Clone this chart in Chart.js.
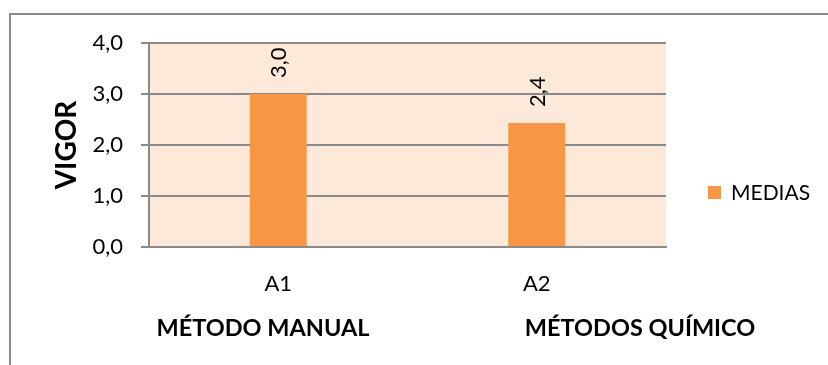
<!DOCTYPE html>
<html>
<head>
<meta charset="utf-8">
<script src="https://cdn.jsdelivr.net/npm/chart.js@4"></script>
<style>
  html, body { margin: 0; padding: 0; background: #ffffff; overflow: hidden; }
  #wrap { width: 828px; height: 365px; }
</style>
</head>
<body>
<div id="wrap"><canvas id="chart" width="828" height="365"></canvas></div>
<script>
// Vigor means per weed-control method
const categories = ['A1', 'A2'];
const groupLabels = ['MÉTODO MANUAL', 'MÉTODOS QUÍMICO'];
const seriesName = 'MEDIAS';
const mediasValues = [3.0, 2.43];
const yTicks = [0, 1, 2, 3, 4];

const FONT = 'Lato, "Open Sans", "DejaVu Sans", sans-serif';
const GRID = '#8a8a8a';
const BAR = '#F79646';
const PLOT_BG = '#FDE9D9';

const fmt = v => v.toFixed(1).replace('.', ',');

// plot background, outer frame, rotated value labels, group captions and legend
const decorations = {
  id: 'decorations',
  beforeDraw(chart) {
    const { ctx, chartArea: a } = chart;
    ctx.save();
    ctx.fillStyle = PLOT_BG;
    ctx.fillRect(a.left, a.top, a.right - a.left, a.bottom - a.top);
    ctx.strokeStyle = GRID;
    ctx.lineWidth = 2;
    ctx.strokeRect(10, 14, 900, 400);
    ctx.restore();
  },
  afterDatasetsDraw(chart) {
    const { ctx } = chart;
    const meta = chart.getDatasetMeta(0);
    const values = chart.data.datasets[0].data;
    ctx.save();
    ctx.fillStyle = '#000000';
    ctx.font = '22px ' + FONT;
    ctx.textAlign = 'left';
    ctx.textBaseline = 'middle';
    meta.data.forEach((bar, i) => {
      ctx.save();
      ctx.translate(bar.x + 1, bar.y - 16);
      ctx.rotate(-Math.PI / 2);
      ctx.fillText(fmt(values[i]), 0, 0);
      ctx.restore();
    });
    ctx.restore();
  },
  afterDraw(chart) {
    const { ctx } = chart;
    ctx.save();
    ctx.fillStyle = '#000000';
    ctx.font = 'bold 23.5px ' + FONT;
    ctx.textAlign = 'center';
    ctx.textBaseline = 'middle';
    const centers = [263, 640];
    groupLabels.forEach((t, i) => ctx.fillText(t, centers[i], 328));

    // legend
    const ds = chart.data.datasets[0];
    ctx.fillStyle = ds.backgroundColor;
    ctx.fillRect(708, 186, 13, 13);
    ctx.fillStyle = '#000000';
    ctx.font = '21px ' + FONT;
    ctx.textAlign = 'left';
    ctx.fillText(ds.label, 731, 193);
    ctx.restore();
  }
};

new Chart(document.getElementById('chart'), {
  type: 'bar',
  data: {
    labels: categories,
    datasets: [{
      label: seriesName,
      data: mediasValues,
      backgroundColor: BAR,
      borderWidth: 0,
      barPercentage: 0.22,
      categoryPercentage: 1.0
    }]
  },
  options: {
    responsive: false,
    animation: false,
    devicePixelRatio: 1,
    layout: { padding: { left: 0, top: 43, right: 162, bottom: 0 } },
    plugins: {
      legend: { display: false },
      tooltip: { enabled: false }
    },
    scales: {
      x: {
        grid: { display: false },
        border: { display: true, color: GRID, width: 2 },
        ticks: { color: '#000000', font: { family: FONT, size: 22 }, padding: 16 },
        afterFit(s) { s.height = 118; }
      },
      y: {
        min: 0,
        max: 4,
        afterBuildTicks(s) { s.ticks = yTicks.map(v => ({ value: v })); },
        grid: { color: GRID, lineWidth: 2, drawTicks: true, tickLength: 8 },
        border: { display: true, color: GRID, width: 2 },
        ticks: {
          color: '#000000',
          font: { family: FONT, size: 22 },
          padding: 18,
          callback: v => fmt(v)
        },
        title: {
          display: true,
          text: 'VIGOR',
          color: '#000000',
          font: { family: FONT, size: 28, weight: 'bold' },
          padding: { top: 50, bottom: 0 }
        },
        afterFit(s) { s.width = 149; }
      }
    }
  },
  plugins: [decorations]
});
</script>
</body>
</html>
